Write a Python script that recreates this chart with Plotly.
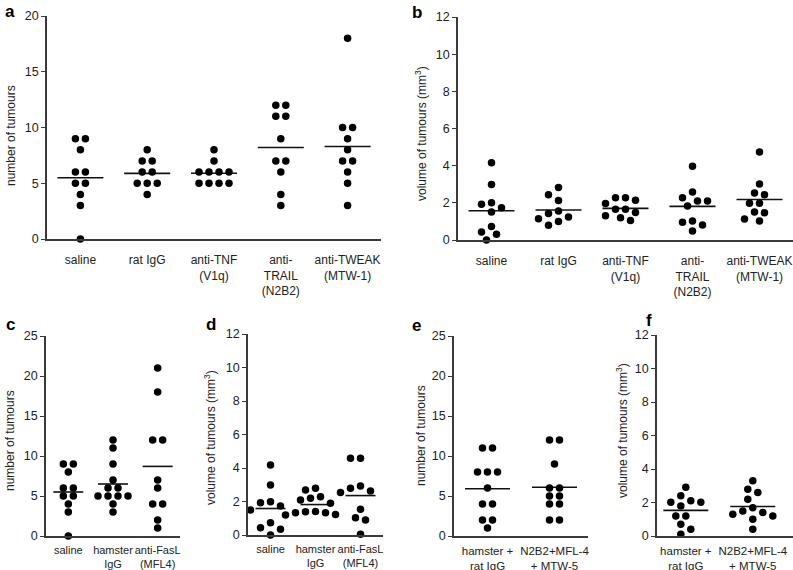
import numpy as np
import plotly.graph_objects as go

W, H = 793, 570
FONT = "Liberation Sans, Arial, Helvetica, sans-serif"

# ---------------- data ----------------
cats_ab = ["saline", "rat IgG", "anti-TNF<br>(V1q)", "anti-<br>TRAIL<br>(N2B2)", "anti-TWEAK<br>(MTW-1)"]
a_saline = [9, 9, 8, 6, 6, 5, 5, 4, 3, 0]
a_rat_igg = [8, 7, 7, 6, 6, 5, 5, 5, 4]
a_anti_tnf = [8, 7, 6, 6, 6, 6, 5, 5, 5, 5]
a_anti_trail = [12, 12, 11, 11, 9, 7, 7, 6, 4, 3]
a_anti_tweak = [18, 10, 10, 9, 8, 7, 7, 6, 5, 3]

b_saline = [4.16, 2.98, 1.92, 1.51, 1.74, 2.01, 0.43, 0.72, 0.31, 0.0]
b_rat_igg = [2.82, 2.44, 2.13, 1.56, 1.42, 1.15, 1.24, 1.00, 0.79]
b_anti_tnf = [2.14, 2.28, 2.28, 1.97, 1.30, 1.66, 1.66, 1.05, 1.20, 1.48]
b_anti_trail = [3.97, 2.58, 2.10, 2.10, 2.28, 1.83, 0.95, 0.81, 1.02, 0.48]
b_anti_tweak = [4.74, 3.01, 2.53, 2.44, 1.98, 1.98, 1.47, 1.51, 1.02, 1.13]

cats_cd = ["saline", "hamster<br>IgG", "anti-FasL<br>(MFL4)"]
c_saline = [9, 9, 8, 6, 6, 5, 5, 4, 3, 0]
c_hamster_igg = [12, 11, 9, 7, 6, 6, 5, 5, 5, 5, 4, 3]
c_anti_fasl = [21, 18, 12, 12, 7, 6, 4, 4, 2, 1]

d_saline = [4.18, 2.98, 1.93, 1.73, 1.99, 1.49, 0.73, 0.44, 0.34, 0.0]
d_hamster_igg = [2.69, 2.79, 2.29, 2.19, 2.09, 1.89, 1.39, 1.19, 1.33, 1.33, 1.22, 1.40]
d_anti_fasl = [4.58, 4.58, 2.93, 2.63, 2.53, 2.79, 1.53, 1.03, 0.90, 0.04]

cats_ef = ["hamster +<br>rat IgG", "N2B2+MFL-4<br>+ MTW-5"]
e_hamster_rat = [11, 11, 8, 8, 8, 6, 4, 4, 2, 2, 1]
e_n2b2_mfl4_mtw5 = [12, 12, 9, 6, 6, 5, 5, 4, 4, 2, 2]
f_hamster_rat = [2.91, 2.41, 2.01, 1.79, 2.01, 2.11, 1.19, 1.19, 0.70, 0.40, 0.10]
f_n2b2_mfl4_mtw5 = [3.30, 2.79, 2.59, 2.19, 1.69, 1.41, 1.19, 1.00, 1.30, 1.49, 0.40]

y_count_title = "number of tumours"
y_vol_title = "volume of tumours (mm<sup>3</sup>)"

# ---------------- layout geometry (pixels) ----------------
panels = [
    dict(lab="a", cats=cats_ab, groups=[a_saline, a_rat_igg, a_anti_tnf, a_anti_trail, a_anti_tweak],
         x0=47, x1=381, yt=16, yb=239, xr=[-0.5, 4.5], yr=[0, 20], dt=5, title=y_count_title,
         tx=11, ty=136, lx=10, ly=12, fs=12, so=9, hl=23),
    dict(lab="b", cats=cats_ab, groups=[b_saline, b_rat_igg, b_anti_tnf, b_anti_trail, b_anti_tweak],
         x0=458, x1=793, yt=17, yb=240, xr=[-0.5, 4.5], yr=[0, 12], dt=2, title=y_vol_title,
         tx=421, ty=134, lx=417, ly=13, fs=12, so=9, hl=23),
    dict(lab="c", cats=cats_cd, groups=[c_saline, c_hamster_igg, c_anti_fasl],
         x0=46, x1=180, yt=336, yb=536, xr=[-0.5, 2.5], yr=[0, 25], dt=5, title=y_count_title,
         tx=10, ty=441, lx=10, ly=324, fs=11, so=3, hl=15),
    dict(lab="d", cats=cats_cd, groups=[d_saline, d_hamster_igg, d_anti_fasl],
         x0=248, x1=383, yt=334, yb=535, xr=[-0.5, 2.5], yr=[0, 12], dt=2, title=y_vol_title,
         tx=210, ty=437, lx=211, ly=324, fs=11, so=3, hl=15),
    dict(lab="e", cats=cats_ef, groups=[e_hamster_rat, e_n2b2_mfl4_mtw5],
         x0=454, x1=588, yt=336, yb=536, xr=[-0.5, 1.5], yr=[0, 25], dt=5, title=y_count_title,
         tx=421, ty=436, lx=417, ly=325, fs=11.5, so=3, hl=22.5),
    dict(lab="f", cats=cats_ef, groups=[f_hamster_rat, f_n2b2_mfl4_mtw5],
         x0=657, x1=793, yt=335, yb=536, xr=[-0.43, 1.6], yr=[0, 12], dt=2, title=y_vol_title,
         tx=622, ty=431, lx=649, ly=320, fs=11.5, so=3, hl=22.5),
]

DOT_SPACING = 10.0   # px between neighbouring dots


def row_offsets(vals):
    vals = np.asarray(vals, dtype=float)
    offs = np.zeros(len(vals))
    for v in np.unique(vals):
        idx = np.where(vals == v)[0]
        n = len(idx)
        for j, i in enumerate(idx):
            offs[i] = (j - (n - 1) / 2.0) * DOT_SPACING
    return offs


def swarm_offsets(vals, ppu_y, d=9.0, step=5.0):
    vals = np.asarray(vals, dtype=float)
    order = np.argsort(-vals, kind="stable")
    placed = []
    offs = np.zeros(len(vals))
    cands = [0.0]
    for m in range(1, 30):
        cands += [-m * step, m * step]
    for i in order:
        y = vals[i] * ppu_y
        for c in cands:
            if all((c - px) ** 2 + (y - py) ** 2 >= d * d for px, py in placed):
                offs[i] = c
                placed.append((c, y))
                break
    return offs


fig = go.Figure()
layout = dict(
    template="none",
    width=W, height=H, margin=dict(l=0, r=0, t=0, b=0, pad=0, autoexpand=False),
    paper_bgcolor="white", plot_bgcolor="white", showlegend=False,
    font=dict(family=FONT, size=12, color="#222"),
)
annotations = []
AXC = "#3a3a3a"

for k, p in enumerate(panels):
    sfx = "" if k == 0 else str(k + 1)
    xa, ya = "x" + sfx, "y" + sfx
    ppx = (p["x1"] - p["x0"]) / (p["xr"][1] - p["xr"][0])
    ppy = (p["yb"] - p["yt"]) / (p["yr"][1] - p["yr"][0])
    xs, ys, lx, ly = [], [], [], []
    for gi, vals in enumerate(p["groups"]):
        is_int = all(float(v).is_integer() for v in vals)
        offs = row_offsets(vals) if is_int else swarm_offsets(vals, ppy)
        xs += list(gi + offs / ppx)
        ys += list(vals)
        m = float(np.mean(vals))
        lx += [gi - p["hl"] / ppx, gi + p["hl"] / ppx, None]
        ly += [m, m, None]
    fig.add_trace(go.Scatter(x=lx, y=ly, xaxis=xa, yaxis=ya, mode="lines",
                             line=dict(color="#111", width=1.6), hoverinfo="skip",
                             cliponaxis=False))
    fig.add_trace(go.Scatter(x=xs, y=ys, xaxis=xa, yaxis=ya, mode="markers",
                             marker=dict(color="black", size=7.5, line=dict(width=0)),
                             cliponaxis=False))
    layout["xaxis" + sfx] = dict(
        domain=[p["x0"] / W, p["x1"] / W], range=p["xr"], anchor=ya, automargin=False,
        showline=True, linecolor=AXC, linewidth=1.5, showgrid=False, zeroline=False,
        tickmode="array", tickvals=list(range(len(p["cats"]))), ticktext=p["cats"],
        ticks="", tickangle=0, ticklabelstandoff=p["so"],
        tickfont=dict(size=p["fs"], family=FONT, color="#222"),
        fixedrange=True,
    )
    layout["yaxis" + sfx] = dict(
        domain=[1 - p["yb"] / H, 1 - p["yt"] / H], range=p["yr"], anchor=xa, automargin=False,
        showline=True, linecolor=AXC, linewidth=1.5, showgrid=False, zeroline=False,
        tickmode="linear", tick0=0, dtick=p["dt"], ticks="outside", ticklen=4,
        tickcolor=AXC, tickwidth=1.2, tickfont=dict(size=12.5, family=FONT, color="#222"),
        fixedrange=True,
    )
    annotations.append(dict(text=p["title"], x=p["tx"] / W, y=1 - p["ty"] / H,
                            xref="paper", yref="paper", showarrow=False, textangle=-90,
                            xanchor="center", yanchor="middle",
                            font=dict(size=12, family=FONT, color="#222")))
    annotations.append(dict(text="<b>" + p["lab"] + "</b>", x=p["lx"] / W, y=1 - p["ly"] / H,
                            xref="paper", yref="paper", showarrow=False,
                            xanchor="center", yanchor="middle",
                            font=dict(size=17, family=FONT, color="black")))

layout["annotations"] = annotations
fig.update_layout(**layout)
fig.write_html("out.html", config={"displayModeBar": False},
               post_script="document.body.style.margin='0px';")
